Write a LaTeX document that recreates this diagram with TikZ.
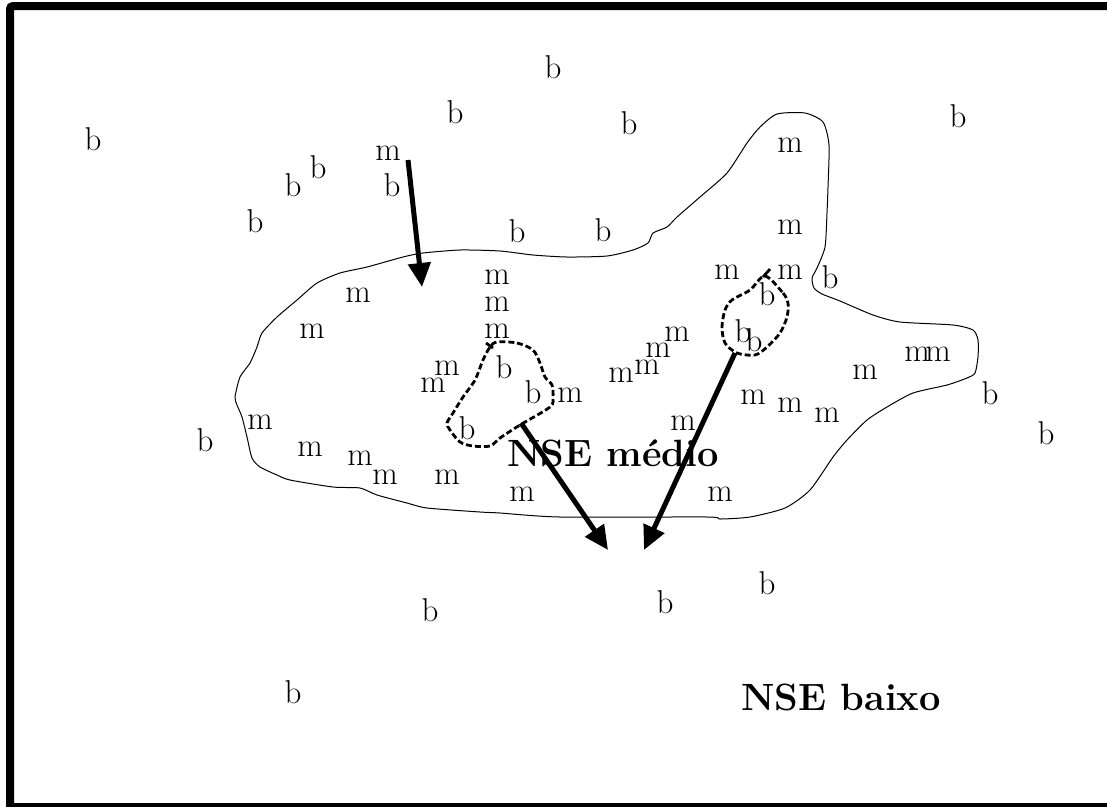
\documentclass[tikz,border=0pt]{standalone}
\usepackage{fontspec}
\usetikzlibrary{arrows.meta}
\tikzset{
  lt/.style={inner sep=0pt, font=\fontsize{33}{38}\selectfont},
  big/.style={inner sep=0pt, font=\fontsize{38}{44}\selectfont\bfseries},
  outline/.style={line width=1pt, line join=round},
  loop/.style={line width=2.8pt, dash pattern=on 6pt off 3pt, line join=round},
  arr/.style={line width=5pt, -{Triangle[width=22pt,length=24pt]}},
}
\begin{document}
\begin{tikzpicture}[x=1pt,y=-1pt]
\fill[white] (0,0) rectangle (1107,807);
\useasboundingbox (0,0) rectangle (1107,807);
% frame
\draw[line width=8pt, rounded corners=3pt] (10,803) -- (10,6) -- (1107,6);
\draw[line width=4pt] (6,805) -- (1107,805);
% NSE medio region
\draw[outline] plot[smooth cycle, tension=0.4] coordinates {
(777,114) (805,113) (823,122) (829,145) (828,187) (827,213) (825,247) (817,268)
(812,278) (814,288) (822,294) (840,301) (873,315) (900,322) (953,325) (973,330)
(978,340) (978,357) (975,373) (967,378) (947,385) (913,393) (887,407) (867,420)
(847,440) (833,457) (810,490) (785,508) (750,517) (720,519) (707,517) (560,517)
(500,513) (480,512) (427,508) (407,503) (377,495) (360,488) (333,487) (290,480)
(277,475) (260,467) (252,458) (247,437) (242,417) (237,405) (235,397) (240,377)
(250,363) (257,347) (262,333) (277,317) (297,300) (317,283) (340,273) (367,267)
(403,257) (423,253) (460,250) (500,251) (533,255) (567,257) (607,256) (633,250)
(648,243) (653,233) (667,227) (677,217) (700,197) (727,173) (747,143) (760,127)};
% dashed loops
\draw[loop] plot[smooth cycle, tension=0.5] coordinates {
(497,342) (517,343) (533,350) (540,363) (545,377) (552,385) (553,397) (550,407)
(520,425) (500,438) (490,446) (473,446) (460,442) (450,430) (447,423) (453,413)
(463,397) (475,380) (483,360) (490,347)};
\draw[line width=2.8pt] (486,343) -- (493,348);
\draw[loop] plot[smooth cycle, tension=0.5] coordinates {
(765,276) (783,293) (788,303) (787,317) (780,333) (767,347) (755,355) (737,353)
(725,343) (722,327) (725,310) (732,300) (750,290)};
\draw[line width=2.8pt] (763,277) -- (770,269);
% arrow end points
\coordinate (a1s) at (408,160);
\coordinate (a1e) at (422,287);
\coordinate (a2s) at (521,423);
\coordinate (a2e) at (608,550);
\coordinate (a3s) at (735,353);
\coordinate (a3e) at (644,550);
\draw[arr] (a1s) -- (a1e);
\draw[arr] (a2s) -- (a2e);
\draw[arr] (a3s) -- (a3e);
% b letters
\node[lt] (b1) at (93,139) {b};
\node[lt] (b2) at (553,67) {b};
\node[lt] (b3) at (455,112) {b};
\node[lt] (b4) at (629,123) {b};
\node[lt] (b5) at (958,116) {b};
\node[lt] (b6) at (318,167) {b};
\node[lt] (b7) at (293,185) {b};
\node[lt] (b8) at (392,185) {b};
\node[lt] (b9) at (255,221) {b};
\node[lt] (b10) at (517,231) {b};
\node[lt] (b11) at (603,230) {b};
\node[lt] (b12) at (830,277) {b};
\node[lt] (b13) at (767,294) {b};
\node[lt] (b14) at (743,331) {b};
\node[lt] (b15) at (754,340) {b};
\node[lt] (b16) at (504,367) {b};
\node[lt] (b17) at (533,392) {b};
\node[lt] (b18) at (467,428) {b};
\node[lt] (b19) at (990,393) {b};
\node[lt] (b20) at (1046,433) {b};
\node[lt] (b21) at (205,440) {b};
\node[lt] (b22) at (767,583) {b};
\node[lt] (b23) at (665,602) {b};
\node[lt] (b24) at (430,610) {b};
\node[lt] (b25) at (293,692) {b};
% m letters
\node[lt] (m1) at (388,153) {m};
\node[lt] (m2) at (790,145) {m};
\node[lt] (m3) at (790,227) {m};
\node[lt] (m4) at (727,272) {m};
\node[lt] (m5) at (790,272) {m};
\node[lt] (m6) at (497,277) {m};
\node[lt] (m7) at (358,295) {m};
\node[lt] (m8) at (497,304) {m};
\node[lt] (m9) at (312,331) {m};
\node[lt] (m10) at (497,331) {m};
\node[lt] (m11) at (677,334) {m};
\node[lt] (m12) at (658,350) {m};
\node[lt] (m13) at (647,367) {m};
\node[lt] (m14) at (621,375) {m};
\node[lt] (m15) at (447,368) {m};
\node[lt] (m16) at (433,385) {m};
\node[lt] (m17) at (570,395) {m};
\node[lt] (m18) at (917,354) {m};
\node[lt] (m19) at (938,354) {m};
\node[lt] (m20) at (865,372) {m};
\node[lt] (m21) at (753,397) {m};
\node[lt] (m22) at (790,405) {m};
\node[lt] (m23) at (827,415) {m};
\node[lt] (m24) at (683,423) {m};
\node[lt] (m25) at (260,422) {m};
\node[lt] (m26) at (310,449) {m};
\node[lt] (m27) at (360,458) {m};
\node[lt] (m28) at (385,477) {m};
\node[lt] (m29) at (447,477) {m};
\node[lt] (m30) at (522,494) {m};
\node[lt] (m31) at (720,494) {m};
% labels
\node[big] (medio) at (613,453) {NSE médio};
\node[big] (baixo) at (841,697) {NSE baixo};
\fill[white] (1096,14) rectangle (1108,799);
\end{tikzpicture}
\end{document}
